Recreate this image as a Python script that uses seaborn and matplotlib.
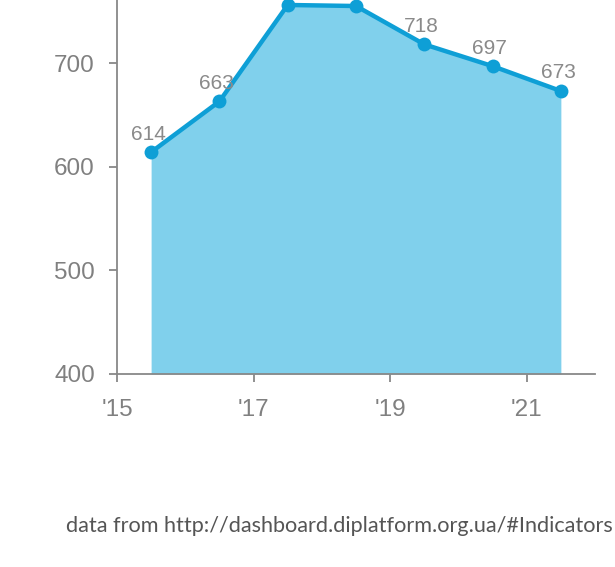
import matplotlib
matplotlib.use("Agg")
import matplotlib.pyplot as plt
import seaborn as sns
import pandas as pd

years = [2015.5, 2016.5, 2017.5, 2018.5, 2019.5, 2020.5, 2021.5]
values = [614, 663, 756, 755, 718, 697, 673]
# the labels of the two peak points lie outside the visible picture
labels = ["614", "663", "", "", "718", "697", "673"]
xticks = [2015, 2017, 2019, 2021]
xticklabels = ["'15", "'17", "'19", "'21"]
yticks = [400, 500, 600, 700]
source = "data from http://dashboard.diplatform.org.ua/#Indicators"

sns.set_style("ticks")
plt.rcParams["font.family"] = ["Liberation Sans", "DejaVu Sans"]

df = pd.DataFrame({"year": years, "value": values})

fig = plt.figure(figsize=(6.15, 5.67), dpi=100)
ax = fig.add_axes([0.1902, 0.3404, 0.7773, 0.6596])

line_color = "#0e9fd6"
fill_color = "#80d0ec"

ax.fill_between(df["year"], df["value"], 400, color=fill_color, linewidth=0, zorder=1)
sns.lineplot(data=df, x="year", y="value", ax=ax, color=line_color, linewidth=3.2,
             marker="o", markersize=10, markeredgewidth=0, zorder=3)

for x, y, t in zip(years, values, labels):
    if t:
        ax.annotate(t, (x, y), xytext=(-2, 13), textcoords="offset points",
                    ha="center", va="center", fontsize=15, color="#8a8a8a", zorder=4)

ax.set_xlim(2015, 2022)
ax.set_ylim(400, 760.8)
ax.set_xticks(xticks)
ax.set_xticklabels(xticklabels)
ax.set_yticks(yticks)
ax.set_xlabel("")
ax.set_ylabel("")

for s in ["top", "right"]:
    ax.spines[s].set_visible(False)
for s in ["left", "bottom"]:
    ax.spines[s].set_color("#888888")
    ax.spines[s].set_linewidth(1.3)
ax.tick_params(axis="both", colors="#888888", labelcolor="#808080", labelsize=17.5,
               length=6, width=1.3, direction="out")
ax.tick_params(axis="x", pad=12)
ax.tick_params(axis="y", pad=10)

fig.text(0.997, 0.073, source, ha="right", va="center", fontsize=15.6,
         color="#555555", family=["Lato", "DejaVu Sans"])

fig.savefig("out.png", dpi=100)
